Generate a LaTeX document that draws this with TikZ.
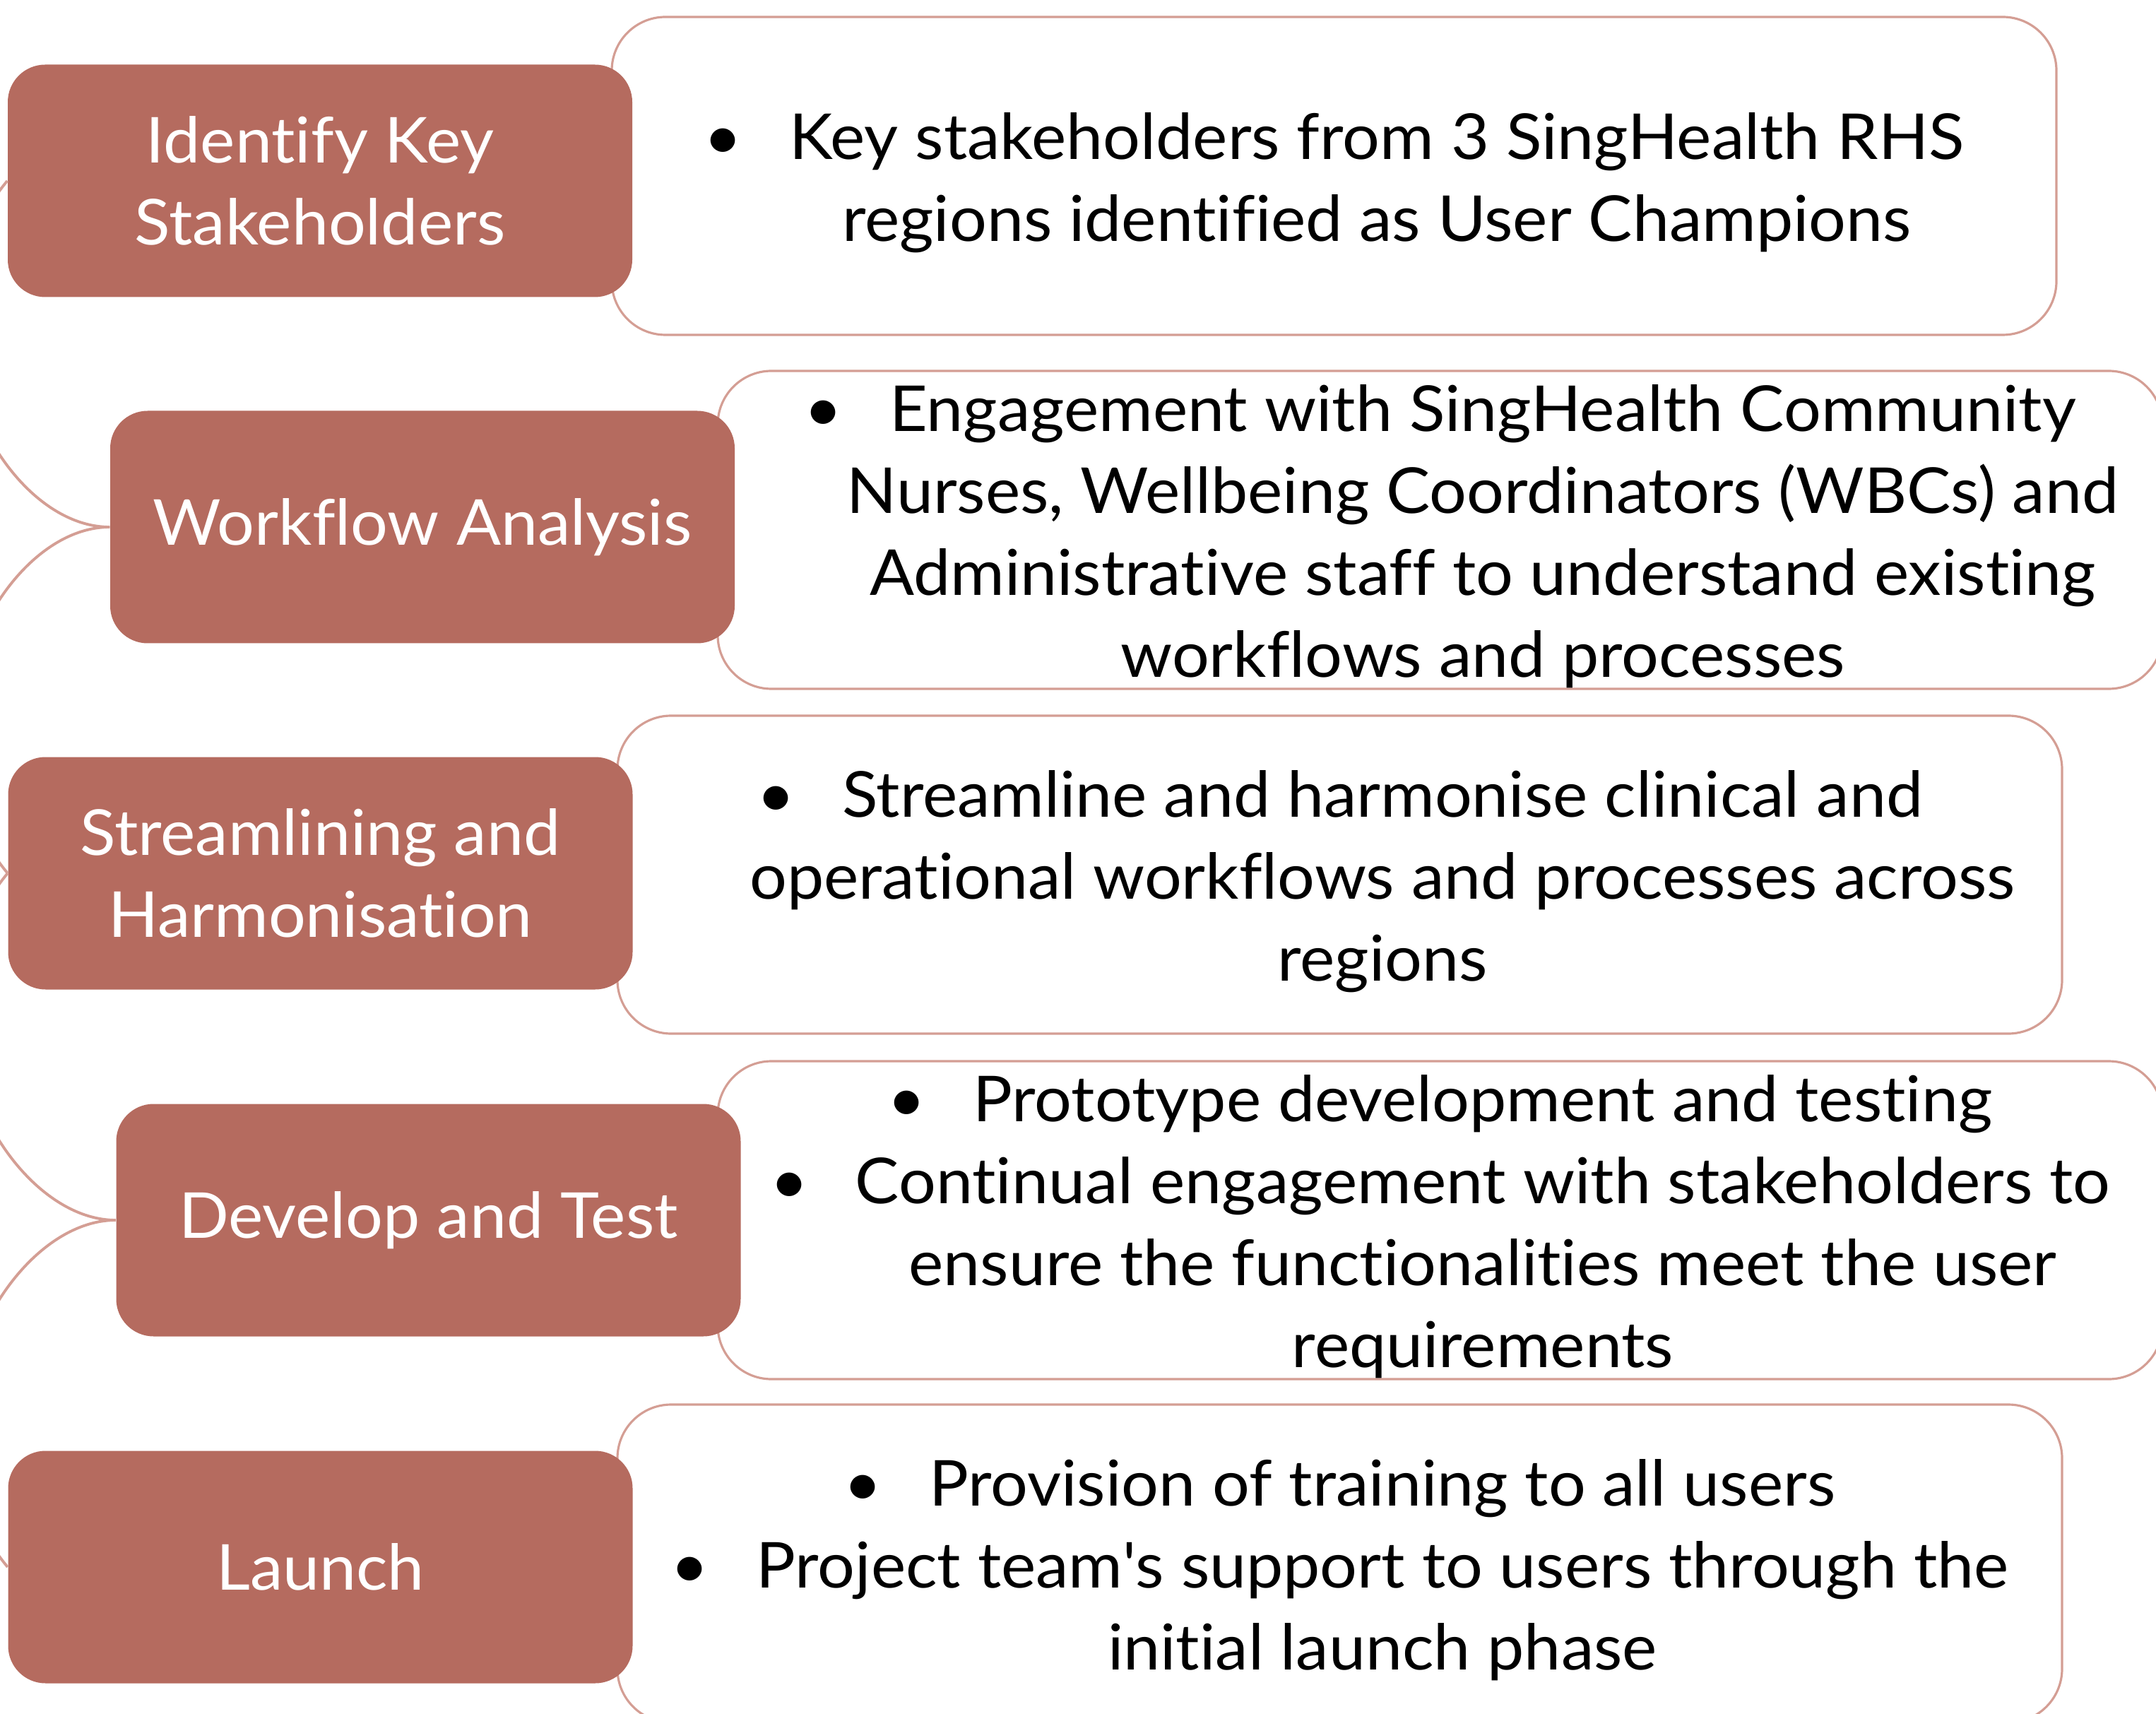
\documentclass[tikz,border=0pt]{standalone}
\usepackage{fontspec}
\setmainfont{Lato}[Ligatures={TeX,NoCommon},FakeStretch=1.04]
\usepackage{xcolor}

\definecolor{stepfill}{RGB}{181,107,95}
\definecolor{noteline}{RGB}{212,158,148}

% bullet with hanging indent (the strut keeps the first line a bit lower),
% and the matching indent for wrapped lines
\newcommand\bul[1][1.21cm]{\rule{0pt}{0.95em}\makebox[#1][l]{\textbullet}}
\newcommand\cont[1][1.21cm]{\hspace*{#1}}

\begin{document}
\begin{tikzpicture}[
  phase/.style={rounded corners=0.53cm,fill=stepfill,text=white,minimum width=8.84cm,minimum height=3.29cm,align=center,font=\fontsize{25.5}{33}\selectfont},
  notes/.style={draw=noteline,line width=0.9pt,fill=white,rounded corners=0.76cm,minimum width=20.45cm,minimum height=4.5cm,inner ysep=0pt,align=center,font=\fontsize{25.5}{33}\selectfont},
  link/.style={draw=noteline,line width=1.1pt}]
\useasboundingbox (0,0) rectangle (30.52,-24.26);
\clip (0,0) rectangle (30.52,-24.26);

% detail boxes
\node[notes] (n1) at (18.885,-2.49) {\bul Key stakeholders from 3 SingHealth RHS\\ \cont regions identified as User Champions};
\node[notes] (n2) at (20.385,-7.50) {\bul Engagement with SingHealth Community\\ \cont Nurses, Wellbeing Coordinators (WBCs) and\\ \cont Administrative staff to understand existing\\ \cont workflows and processes};
\node[notes] (n3) at (18.965,-12.38) {\bul Streamline and harmonise clinical and\\ \cont operational workflows and processes across\\ \cont regions};
\node[notes] (n4) at (20.385,-17.27) {\bul[0.97cm] Prototype development and testing\\ \bul[0.97cm] Continual engagement with stakeholders to\\ \cont[0.97cm] ensure the functionalities meet the user\\ \cont[0.97cm] requirements};
\node[notes] (n5) at (18.965,-22.13) {\bul[0.97cm] Provision of training to all users\\ \bul[0.97cm] Project team\textquotesingle s support to users through the\\ \cont[0.97cm] initial launch phase};

% phases
\node[phase] (id) at (4.53,-2.56) {Identify Key\\Stakeholders};
\node[phase] (wf) at (5.98,-7.46) {Workflow Analysis};
\node[phase] (sh) at (4.535,-12.36) {Streamlining and\\Harmonisation};
\node[phase] (dt) at (6.065,-17.27) {Develop and Test};
\node[phase] (ln) at (4.535,-22.18) {Launch};

% curved links between phases
\draw[link] (id.west) .. controls +(-1.61,-1.94) and +(-1.56,0) .. (wf.west);
\draw[link] (wf.west) .. controls +(-1.56,0) and +(-1.61,1.94) .. (sh.west);
\draw[link] (sh.west) .. controls +(-1.61,-1.94) and +(-1.56,0) .. (dt.west);
\draw[link] (dt.west) .. controls +(-1.56,0) and +(-1.61,1.94) .. (ln.west);
\end{tikzpicture}
\end{document}
